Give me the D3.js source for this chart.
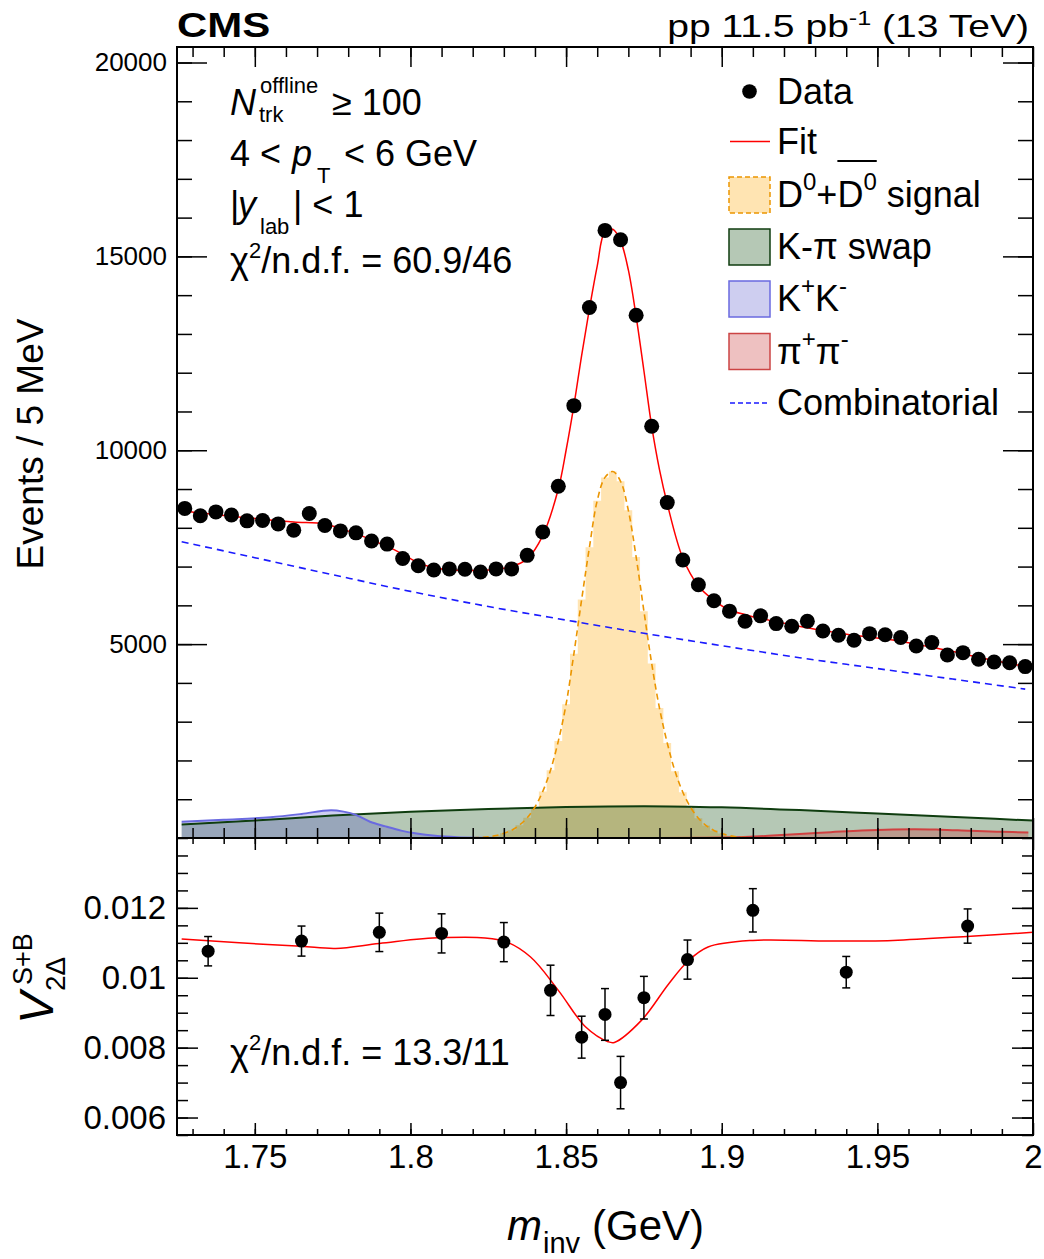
<!DOCTYPE html>
<html lang="en">
  <head>
    <meta charset="UTF-8" />
    <title>D0 invariant mass and v2</title>
    <style>
      * {
        margin: 0;
        padding: 0;
      }
      body {
        background: #fff;
      }
      text {
        font-family: 'Liberation Sans', Arial, Helvetica, sans-serif;
        fill: #000;
      }
    </style>
  </head>
  <body>
    <script src="https://cdn.jsdelivr.net/npm/d3@7"></script>
    <script>
      // ---- data ----
      // upper panel: events / 5 MeV
      const massBins = [1.7275, 1.7325, 1.7375, 1.7425, 1.7475, 1.7525, 1.7575, 1.7625, 1.7675, 1.7725,
        1.7775, 1.7825, 1.7875, 1.7925, 1.7975, 1.8025, 1.8075, 1.8125, 1.8175, 1.8225,
        1.8275, 1.8325, 1.8375, 1.8425, 1.8475, 1.8525, 1.8575, 1.8625, 1.8675, 1.8725,
        1.8775, 1.8825, 1.8875, 1.8925, 1.8975, 1.9025, 1.9075, 1.9125, 1.9175, 1.9225,
        1.9275, 1.9325, 1.9375, 1.9425, 1.9475, 1.9525, 1.9575, 1.9625, 1.9675, 1.9725,
        1.9775, 1.9825, 1.9875, 1.9925, 1.9975]
      const events = [8500, 8310, 8410, 8330, 8180, 8190, 8100, 7940, 8370, 8060,
        7920, 7870, 7660, 7580, 7210, 7020, 6910, 6940, 6930, 6860,
        6940, 6940, 7290, 7890, 9070, 11150, 13680, 15670, 15430, 13480,
        10620, 8650, 7170, 6530, 6120, 5850, 5590, 5730, 5530, 5460,
        5590, 5340, 5230, 5100, 5270, 5240, 5170, 4950, 5040, 4720,
        4780, 4610, 4540, 4520, 4420]

      const fitMass = [1.7265, 1.7325, 1.7425, 1.7525, 1.7625, 1.7725, 1.7775, 1.7825, 1.7875, 1.7925,
        1.7975, 1.8025, 1.8075, 1.8125, 1.8175, 1.8225, 1.8275, 1.8325, 1.8375, 1.8425,
        1.8475, 1.85, 1.8525, 1.855, 1.8575, 1.86, 1.8625, 1.865, 1.8675, 1.87,
        1.8725, 1.875, 1.8775, 1.88, 1.8825, 1.8875, 1.8925, 1.8975, 1.9025, 1.9075,
        1.9125, 1.9175, 1.9225, 1.9275, 1.9325, 1.9375, 1.9425, 1.9475, 1.9525, 1.9575,
        1.9625, 1.9675, 1.9725, 1.9775, 1.9825, 1.9875, 1.9925, 1.9985]
      const fitEvents = [8440, 8380, 8300, 8220, 8150, 8100, 7980, 7850, 7690, 7520,
        7320, 7100, 6970, 6920, 6900, 6900, 6930, 7000, 7200, 7800,
        9000, 10000, 11150, 12450, 13650, 14750, 15640, 15700, 15400, 14650,
        13450, 12050, 10620, 9500, 8620, 7220, 6500, 6130, 5880, 5760,
        5660, 5580, 5500, 5420, 5350, 5290, 5230, 5180, 5130, 5070,
        5000, 4920, 4840, 4750, 4660, 4580, 4500, 4410]

      const sigMass = [1.82, 1.8225, 1.825, 1.8275, 1.83, 1.8325, 1.835, 1.8375, 1.84, 1.8425,
        1.845, 1.8475, 1.85, 1.8525, 1.855, 1.8575, 1.86, 1.8625, 1.865, 1.8675,
        1.87, 1.8725, 1.875, 1.8775, 1.88, 1.8825, 1.885, 1.8875, 1.89, 1.8925,
        1.895, 1.8975, 1.9, 1.9025, 1.905, 1.9075, 1.91]
      const sigEvents = [5, 15, 30, 65, 120, 200, 330, 520, 800, 1200,
        1750, 2500, 3450, 4750, 6150, 7500, 8700, 9300, 9450, 9200,
        8450, 7250, 5850, 4500, 3350, 2450, 1720, 1180, 790, 510,
        320, 195, 115, 60, 28, 12, 4]

      const swapMass = [1.7265, 1.75, 1.775, 1.8, 1.825, 1.85, 1.875, 1.9, 1.925, 1.95, 1.975, 2.0]
      const swapEvents = [350, 450, 580, 680, 750, 800, 820, 790, 720, 630, 540, 450]

      const kkMass = [1.7265, 1.74, 1.755, 1.765, 1.7745, 1.7785, 1.782, 1.787, 1.792, 1.797, 1.802, 1.808, 1.815, 1.822, 1.83]
      const kkEvents = [420, 470, 535, 620, 715, 680, 610, 420, 300, 190, 115, 55, 18, 5, 0]

      const pipiMass = [1.88, 1.895, 1.905, 1.915, 1.925, 1.935, 1.945, 1.955, 1.962, 1.97, 1.98, 1.99, 1.9985]
      const pipiEvents = [0, 5, 20, 55, 105, 150, 195, 222, 228, 215, 185, 160, 140]

      const combMass = [1.7265, 1.75, 1.775, 1.8, 1.825, 1.85, 1.875, 1.9, 1.925, 1.95, 1.975, 1.9975]
      const combEvents = [7640, 7230, 6790, 6360, 5970, 5620, 5280, 4960, 4650, 4370, 4090, 3840]

      // lower panel: V2Delta S+B
      const v2Mass = [1.735, 1.765, 1.79, 1.81, 1.83, 1.845, 1.855, 1.8625, 1.8675, 1.875, 1.889, 1.91, 1.94, 1.979]
      const v2Values = [0.01076, 0.01105, 0.0113, 0.01127, 0.01102, 0.00964, 0.0083, 0.00895, 0.007, 0.00943, 0.01052, 0.01193, 0.01016, 0.01148]
      const v2Errors = [0.00042, 0.00043, 0.00055, 0.00056, 0.00056, 0.00072, 0.0006, 0.00074, 0.00075, 0.00061, 0.00056, 0.00062, 0.00045, 0.00049]

      const v2FitMass = [1.7265, 1.745, 1.765, 1.776, 1.79, 1.81, 1.83, 1.8385, 1.8475, 1.8563,
        1.8635, 1.8655, 1.8742, 1.883, 1.8892, 1.8956, 1.91, 1.935, 1.955, 1.98, 2.0]
      const v2FitValues = [0.01111, 0.011, 0.0109, 0.01084, 0.01098, 0.01115, 0.01105, 0.0106, 0.00964, 0.00859,
        0.00817, 0.00815, 0.00878, 0.00983, 0.01048, 0.01088, 0.01107, 0.01105, 0.01107, 0.01119, 0.0113]

      // tick labels
      const xTicks = [1.75, 1.8, 1.85, 1.9, 1.95, 2]
      const topYTicks = [5000, 10000, 15000, 20000]
      const bottomYTicks = [0.006, 0.008, 0.01, 0.012]

      // ---- layout ----
      const W = 1044, H = 1259
      const L = 177, R = 1033
      const topT = 47, topB = 838, botB = 1135

      const svg = d3.select('body').append('svg').attr('width', W).attr('height', H)

      const x = d3.scaleLinear().domain([1.725, 2.0]).range([L, R])
      const y = d3.scaleLinear().domain([0, 20400]).range([topB, topT])
      const y2 = d3.scaleLinear().domain([0.0055, 0.014]).range([botB, topB])

      const defs = svg.append('defs')
      defs.append('clipPath').attr('id', 'clipTop').append('rect')
        .attr('x', L).attr('y', topT).attr('width', R - L).attr('height', topB - topT)
      defs.append('clipPath').attr('id', 'clipBot').append('rect')
        .attr('x', L).attr('y', topB).attr('width', R - L).attr('height', botB - topB)

      // ---- upper panel ----
      const upper = svg.append('g').attr('clip-path', 'url(#clipTop)')

      const zip = (a, b) => a.map((v, i) => [v, b[i]])
      const area = c => d3.area().x(d => x(d[0])).y0(y(0)).y1(d => y(d[1])).curve(c)
      const line = c => d3.line().x(d => x(d[0])).y(d => y(d[1])).curve(c)

      // signal histogram fill
      upper.append('path').datum(zip(sigMass, sigEvents))
        .attr('d', area(d3.curveStep)).attr('fill', '#ffa500').attr('fill-opacity', 0.3)

      upper.append('path').datum(zip(swapMass, swapEvents))
        .attr('d', area(d3.curveMonotoneX)).attr('fill', '#004000').attr('fill-opacity', 0.29)
      upper.append('path').datum(zip(kkMass, kkEvents))
        .attr('d', area(d3.curveMonotoneX)).attr('fill', '#5050c8').attr('fill-opacity', 0.28)
      upper.append('path').datum(zip(pipiMass, pipiEvents))
        .attr('d', area(d3.curveMonotoneX)).attr('fill', '#c83232').attr('fill-opacity', 0.3)

      upper.append('path').datum(zip(swapMass, swapEvents))
        .attr('d', line(d3.curveMonotoneX)).attr('fill', 'none').attr('stroke', '#0f3d0f').attr('stroke-width', 2)
      upper.append('path').datum(zip(kkMass, kkEvents))
        .attr('d', line(d3.curveMonotoneX)).attr('fill', 'none').attr('stroke', '#6a6ae0').attr('stroke-width', 2)
      upper.append('path').datum(zip(pipiMass, pipiEvents))
        .attr('d', line(d3.curveMonotoneX)).attr('fill', 'none').attr('stroke', '#d04040').attr('stroke-width', 2)

      upper.append('path').datum(zip(sigMass, sigEvents))
        .attr('d', line(d3.curveCatmullRom)).attr('fill', 'none')
        .attr('stroke', '#eb9500').attr('stroke-width', 1.6).attr('stroke-dasharray', '6,4')

      upper.append('path').datum(zip(combMass, combEvents))
        .attr('d', line(d3.curveMonotoneX)).attr('fill', 'none')
        .attr('stroke', '#1a1aff').attr('stroke-width', 1.6).attr('stroke-dasharray', '7,5')

      upper.append('path').datum(zip(fitMass, fitEvents))
        .attr('d', line(d3.curveCatmullRom)).attr('fill', 'none')
        .attr('stroke', '#ff0000').attr('stroke-width', 1.5)

      upper.selectAll('circle.data').data(zip(massBins, events)).join('circle')
        .attr('class', 'data').attr('cx', d => x(d[0])).attr('cy', d => y(d[1])).attr('r', 7.5)
        .attr('fill', '#000')

      // ---- lower panel ----
      const lower = svg.append('g').attr('clip-path', 'url(#clipBot)')
      lower.append('path').datum(zip(v2FitMass, v2FitValues))
        .attr('d', d3.line().x(d => x(d[0])).y(d => y2(d[1])).curve(d3.curveCatmullRom))
        .attr('fill', 'none').attr('stroke', '#ff0000').attr('stroke-width', 1.5)

      const pts = v2Mass.map((m, i) => ({ m, v: v2Values[i], e: v2Errors[i] }))
      const eb = lower.selectAll('g.err').data(pts).join('g').attr('class', 'err')
        .attr('stroke', '#000').attr('stroke-width', 1.5)
      eb.append('line').attr('x1', d => x(d.m)).attr('x2', d => x(d.m))
        .attr('y1', d => y2(d.v - d.e)).attr('y2', d => y2(d.v + d.e))
      eb.append('line').attr('x1', d => x(d.m) - 4).attr('x2', d => x(d.m) + 4)
        .attr('y1', d => y2(d.v - d.e)).attr('y2', d => y2(d.v - d.e))
      eb.append('line').attr('x1', d => x(d.m) - 4).attr('x2', d => x(d.m) + 4)
        .attr('y1', d => y2(d.v + d.e)).attr('y2', d => y2(d.v + d.e))
      lower.selectAll('circle.v2').data(pts).join('circle').attr('class', 'v2')
        .attr('cx', d => x(d.m)).attr('cy', d => y2(d.v)).attr('r', 6.5).attr('fill', '#000')

      // ---- axes ----
      function ticks(axis, tx, ty, size, values, labels, pad, fs) {
        const a = axis.tickValues(values).tickSize(-size).tickPadding(pad || 0)
        a.tickFormat(labels ? d => String(d) : '')
        const g = svg.append('g').attr('transform', `translate(${tx},${ty})`).call(a)
        g.select('.domain').remove()
        g.selectAll('line').attr('stroke', '#000').attr('stroke-width', 1.5)
        g.selectAll('text').attr('font-size', fs || 26).attr('font-family', null)
        return g
      }
      const xMinor = d3.range(1.73, 2.0, 0.01)
      const yMinor = d3.range(1000, 20400, 1000)
      const y2Minor = d3.range(0.0055, 0.01401, 0.0005)

      // upper
      ticks(d3.axisLeft(y), L, 0, 30, topYTicks, true, 10, 26)
      ticks(d3.axisLeft(y), L, 0, 15, yMinor)
      ticks(d3.axisRight(y), R, 0, 30, topYTicks)
      ticks(d3.axisRight(y), R, 0, 15, yMinor)
      ticks(d3.axisBottom(x), 0, topB, 20, xTicks)
      ticks(d3.axisBottom(x), 0, topB, 10, xMinor)
      ticks(d3.axisTop(x), 0, topT, 20, xTicks)
      ticks(d3.axisTop(x), 0, topT, 10, xMinor)
      // lower
      ticks(d3.axisLeft(y2), L, 0, 21, bottomYTicks, true, 11, 33)
      ticks(d3.axisLeft(y2), L, 0, 11, y2Minor)
      ticks(d3.axisRight(y2), R, 0, 21, bottomYTicks)
      ticks(d3.axisRight(y2), R, 0, 11, y2Minor)
      ticks(d3.axisBottom(x), 0, botB, 12, xTicks, true, 10, 33)
      ticks(d3.axisBottom(x), 0, botB, 6, xMinor)
      ticks(d3.axisTop(x), 0, topB, 12, xTicks)
      ticks(d3.axisTop(x), 0, topB, 6, xMinor)

      // frames
      svg.append('rect').attr('x', L).attr('y', topT).attr('width', R - L).attr('height', topB - topT)
        .attr('fill', 'none').attr('stroke', '#000').attr('stroke-width', 2)
      svg.append('rect').attr('x', L).attr('y', topB).attr('width', R - L).attr('height', botB - topB)
        .attr('fill', 'none').attr('stroke', '#000').attr('stroke-width', 2)

      // ---- text helper ----
      function rich(parent, x0, y0, parts, size) {
        const t = parent.append('text').attr('x', x0).attr('y', y0).attr('font-size', size)
        parts.forEach(p => {
          const s = t.append('tspan').text(p.t)
          if (p.x !== undefined) s.attr('x', p.x)
          if (p.y !== undefined) s.attr('y', p.y)
          if (p.dy !== undefined) s.attr('dy', p.dy)
          if (p.size) s.attr('font-size', p.size)
          if (p.it) s.attr('font-style', 'italic')
        })
        return t
      }

      // header
      svg.append('text').attr('transform', `translate(${L},37) scale(1.2,1)`)
        .attr('font-size', 35).attr('font-weight', 'bold').text('CMS')
      const lumi = svg.append('g').attr('transform', 'translate(1029,37) scale(1.26,1)')
      rich(lumi, 0, 0, [{ t: 'pp 11.5 pb' }, { t: '-1', size: 20, dy: -12 }, { t: ' (13 TeV)', dy: 12 }], 31)
        .attr('text-anchor', 'end')

      // annotations, upper panel
      const fsA = 36
      rich(svg, 230, 115, [
        { t: 'N', it: true },
        { t: 'offline', size: 22, x: 260, y: 93 },
        { t: 'trk', size: 22, x: 259, y: 122 },
        { t: '\u2265 100', x: 332, y: 115 }
      ], fsA)
      rich(svg, 230, 166, [
        { t: '4 < ' },
        { t: 'p', it: true, x: 292 },
        { t: 'T', size: 22, x: 317, y: 183 },
        { t: '< 6 GeV', x: 344, y: 166 }
      ], fsA)
      rich(svg, 230, 217, [
        { t: '|' },
        { t: 'y', it: true, x: 238 },
        { t: 'lab', size: 22, x: 260, y: 234 },
        { t: '| < 1', x: 293, y: 217 }
      ], fsA)
      rich(svg, 230, 273, [
        { t: '\u03c7' },
        { t: '2', size: 22, y: 258 },
        { t: '/n.d.f. = 60.9/46', y: 273 }
      ], fsA)

      // annotation, lower panel
      rich(svg, 230, 1065, [
        { t: '\u03c7' },
        { t: '2', size: 22, y: 1050 },
        { t: '/n.d.f. = 13.3/11', y: 1065 }
      ], fsA)

      // axis titles
      svg.append('text').attr('transform', 'translate(43,444) rotate(-90)')
        .attr('text-anchor', 'middle').attr('font-size', 37).text('Events / 5 MeV')
      const vt = svg.append('g').attr('transform', 'translate(53,1024) rotate(-90)')
      vt.append('text').attr('font-size', 48).attr('font-style', 'italic').text('V')
      vt.append('text').attr('x', 33).attr('y', 12).attr('font-size', 28).text('2\u0394')
      vt.append('text').attr('x', 39).attr('y', -21).attr('font-size', 27).text('S+B')

      rich(svg, 507, 1240, [
        { t: 'm', it: true },
        { t: 'inv', size: 29, x: 543, y: 1253 },
        { t: '(GeV)', x: 592, y: 1240 }
      ], 42)

      // ---- legend ----
      const lg = svg.append('g')
      const lx = 729, tx = 777
      const rowY = [91.5, 141.5, 195, 247, 299, 351.5, 403]
      lg.append('circle').attr('cx', lx + 20.5).attr('cy', rowY[0]).attr('r', 7.3).attr('fill', '#000')
      lg.append('line').attr('x1', lx + 1).attr('x2', lx + 41).attr('y1', rowY[1]).attr('y2', rowY[1])
        .attr('stroke', '#ff0000').attr('stroke-width', 1.5)
      const boxes = [
        { fill: '#ffa500', op: 0.3, stroke: '#eb9500', dash: '5,3' },
        { fill: '#004000', op: 0.29, stroke: '#0f3d0f' },
        { fill: '#5050c8', op: 0.28, stroke: '#6a6ae0' },
        { fill: '#c83232', op: 0.3, stroke: '#cc4444' }
      ]
      boxes.forEach((b, i) => {
        const r = lg.append('rect').attr('x', lx).attr('y', rowY[i + 2] - 18).attr('width', 41).attr('height', 36)
          .attr('fill', b.fill).attr('fill-opacity', b.op).attr('stroke', b.stroke).attr('stroke-width', 1.5)
        if (b.dash) r.attr('stroke-dasharray', b.dash)
      })
      lg.append('line').attr('x1', lx + 1).attr('x2', lx + 41).attr('y1', rowY[6]).attr('y2', rowY[6])
        .attr('stroke', '#1a1aff').attr('stroke-width', 1.6).attr('stroke-dasharray', '5,3')

      const fsL = 36
      rich(lg, tx, rowY[0] + 12, [{ t: 'Data' }], fsL)
      rich(lg, tx, rowY[1] + 12, [{ t: 'Fit' }], fsL)
      const sig = rich(lg, tx, rowY[2] + 12, [
        { t: 'D' }, { t: '0', size: 24, y: rowY[2] - 5 }, { t: '+D', y: rowY[2] + 12 },
        { t: '0', size: 24, y: rowY[2] - 5 }, { t: ' signal', y: rowY[2] + 12 }
      ], fsL)
      rich(lg, tx, rowY[3] + 12, [{ t: 'K-\u03c0 swap' }], fsL)
      rich(lg, tx, rowY[4] + 12, [
        { t: 'K' }, { t: '+', size: 24, y: rowY[4] - 5 }, { t: 'K', y: rowY[4] + 12 }, { t: '-', size: 24, y: rowY[4] - 5 }
      ], fsL)
      rich(lg, tx, rowY[5] + 12, [
        { t: '\u03c0' }, { t: '+', size: 24, y: rowY[5] - 5 }, { t: '\u03c0', y: rowY[5] + 12 }, { t: '-', size: 24, y: rowY[5] - 5 }
      ], fsL)
      rich(lg, tx, rowY[6] + 12, [{ t: 'Combinatorial' }], fsL)

      // overline on the anti-D
      const sn = sig.node()
      const d0 = sn.getExtentOfChar(3), d1 = sn.getExtentOfChar(4)
      lg.append('line').attr('x1', d0.x).attr('x2', d1.x + d1.width)
        .attr('y1', 161).attr('y2', 161).attr('stroke', '#000').attr('stroke-width', 2)
    </script>
  </body>
</html>
